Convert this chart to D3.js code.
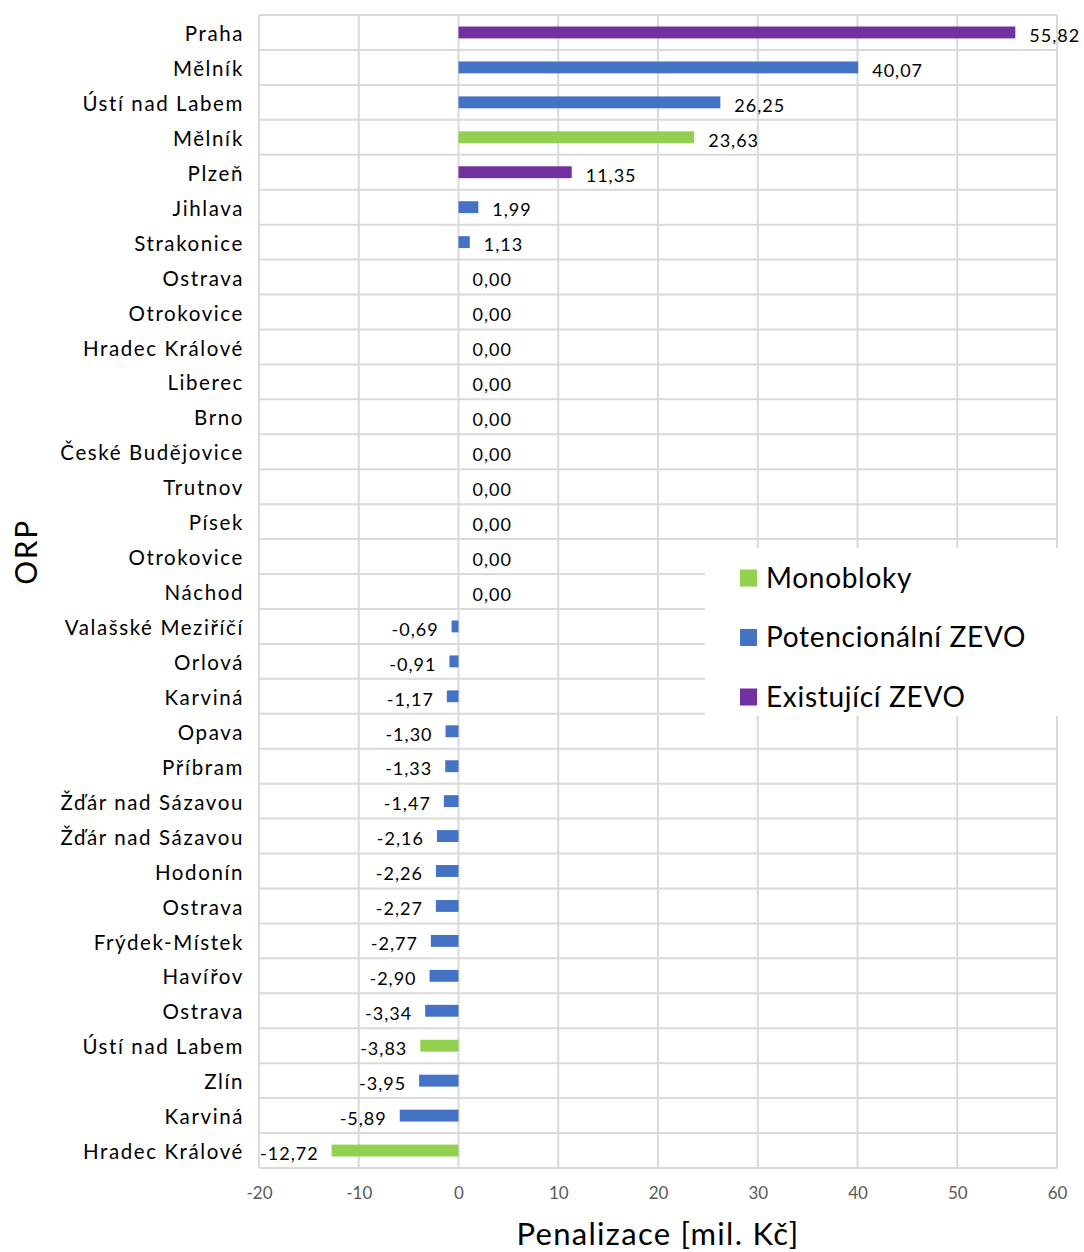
<!DOCTYPE html>
<html>
<head>
<meta charset="utf-8">
<script src="https://cdn.jsdelivr.net/npm/d3@7"></script>
<style>
  body { margin: 0; background: #fff; }
  svg { font-family: Lato, "Open Sans", sans-serif; }
</style>
</head>
<body>
<div id="chart"></div>
<script>
const categories = [
    "Praha", "Mělník", "Ústí nad Labem", "Mělník", "Plzeň", "Jihlava", "Strakonice",
    "Ostrava", "Otrokovice", "Hradec Králové", "Liberec", "Brno", "České Budějovice",
    "Trutnov", "Písek", "Otrokovice", "Náchod", "Valašské Meziříčí", "Orlová", "Karviná",
    "Opava", "Příbram", "Žďár nad Sázavou", "Žďár nad Sázavou", "Hodonín", "Ostrava",
    "Frýdek-Místek", "Havířov", "Ostrava", "Ústí nad Labem", "Zlín", "Karviná", "Hradec Králové"
];
const values = [
    55.82, 40.07, 26.25, 23.63, 11.35, 1.99, 1.13,
    0, 0, 0, 0, 0, 0,
    0, 0, 0, 0, -0.69, -0.91, -1.17,
    -1.30, -1.33, -1.47, -2.16, -2.26, -2.27,
    -2.77, -2.90, -3.34, -3.83, -3.95, -5.89, -12.72
];
// M = Monobloky, P = Potencionální ZEVO, E = Existující ZEVO
const types = [
    "E", "P", "P", "M", "E", "P", "P",
    "P", "P", "P", "P", "P", "P",
    "P", "P", "P", "P", "P", "P", "P",
    "P", "P", "P", "P", "P", "P",
    "P", "P", "P", "M", "P", "P", "M"
];
const seriesNames = ["Monobloky", "Potencionální ZEVO", "Existující ZEVO"];
const seriesKeys = ["M", "P", "E"];
const xTicks = [-20, -10, 0, 10, 20, 30, 40, 50, 60];

const colors = { M: "#92D050", P: "#4472C4", E: "#7030A0" };

const width = 1084, height = 1252;
const margin = { top: 15, right: 27, bottom: 84, left: 259 };
const plotW = width - margin.left - margin.right;
const plotH = height - margin.top - margin.bottom;

const data = values.map((v, i) => ({ i: i, name: categories[i], v: v, t: types[i] }));

const svg = d3.select("#chart").append("svg")
    .attr("width", width)
    .attr("height", height);

const g = svg.append("g")
    .attr("transform", `translate(${margin.left}, ${margin.top})`);

const x = d3.scaleLinear().domain([-20, 60]).range([0, plotW]);
const y = d3.scaleBand()
    .domain(data.map(d => d.i))
    .range([0, plotH])
    .paddingInner(0.66)
    .paddingOuter(0.33);
const step = y.step();

// vertical gridlines
g.append("g").selectAll("line")
    .data(xTicks)
    .join("line")
    .attr("x1", d => x(d)).attr("x2", d => x(d))
    .attr("y1", 0).attr("y2", plotH)
    .attr("stroke", "#d9d9d9").attr("stroke-width", 2);

// horizontal gridlines at category boundaries
g.append("g").selectAll("line")
    .data(d3.range(categories.length + 1))
    .join("line")
    .attr("x1", 0).attr("x2", plotW)
    .attr("y1", d => d * step).attr("y2", d => d * step)
    .attr("stroke", "#d9d9d9").attr("stroke-width", 2);

// bars
g.append("g").selectAll("rect")
    .data(data.filter(d => d.v !== 0))
    .join("rect")
    .attr("x", d => x(Math.min(0, d.v)))
    .attr("y", d => y(d.i))
    .attr("width", d => Math.abs(x(d.v) - x(0)))
    .attr("height", y.bandwidth())
    .attr("fill", d => colors[d.t]);

// value labels
const fmt = v => v.toFixed(2).replace(".", ",");
g.append("g").selectAll("text")
    .data(data)
    .join("text")
    .attr("x", d => d.v < 0 ? x(d.v) - 13 : x(d.v) + 14)
    .attr("y", d => y(d.i) + y.bandwidth() / 2 + 3)
    .attr("dy", "0.35em")
    .attr("text-anchor", d => d.v < 0 ? "end" : "start")
    .attr("font-size", "18px")
    .attr("letter-spacing", "1px")
    .attr("fill", "#000")
    .text(d => fmt(d.v));

// category axis
const yAxis = g.append("g")
    .call(d3.axisLeft(y).tickSize(0).tickPadding(15).tickFormat(i => categories[i]));
yAxis.select(".domain").remove();
yAxis.selectAll("text")
    .attr("font-size", "20.5px")
    .attr("font-family", "Lato, sans-serif")
    .attr("letter-spacing", "1.6px")
    .attr("dy", "0.42em")
    .attr("fill", "#000");

// value axis
const xAxis = g.append("g")
    .attr("transform", `translate(0, ${plotH})`)
    .call(d3.axisBottom(x).tickValues(xTicks).tickSize(0).tickPadding(19)
        .tickFormat(d => String(d)));
xAxis.select(".domain").remove();
xAxis.selectAll("text")
    .attr("font-size", "17px")
    .attr("font-family", "Lato, sans-serif")
    .attr("fill", "#595959");

// axis titles
svg.append("text")
    .attr("x", margin.left + plotW / 2)
    .attr("y", 1245)
    .attr("text-anchor", "middle")
    .attr("font-size", "31px")
    .attr("letter-spacing", "1.3px")
    .attr("fill", "#000")
    .text("Penalizace [mil. Kč]");

svg.append("text")
    .attr("transform", "translate(37, 552) rotate(-90)")
    .attr("text-anchor", "middle")
    .attr("font-size", "30px")
    .attr("letter-spacing", "1.5px")
    .attr("fill", "#000")
    .text("ORP");

// legend
const legend = svg.append("g").attr("transform", "translate(705, 548)");
legend.append("rect")
    .attr("width", 379).attr("height", 168)
    .attr("fill", "#fff");
const items = legend.selectAll("g")
    .data(seriesKeys)
    .join("g")
    .attr("transform", (d, i) => `translate(35, ${30 + i * 59.5})`);
items.append("rect")
    .attr("x", 0).attr("y", -8.5)
    .attr("width", 17).attr("height", 17)
    .attr("fill", d => colors[d]);
items.append("text")
    .attr("x", 26)
    .attr("dy", "0.35em")
    .attr("font-size", "28px")
    .attr("letter-spacing", "0.7px")
    .attr("fill", "#000")
    .text((d, i) => seriesNames[i]);
</script>
</body>
</html>
